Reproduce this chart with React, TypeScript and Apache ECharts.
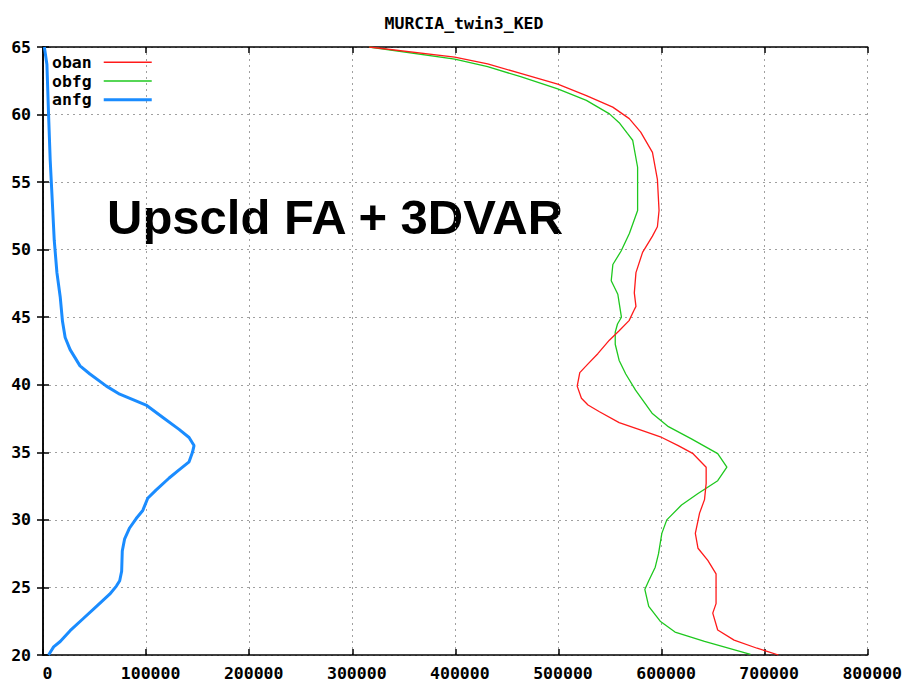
import React, { useEffect, useRef } from "react";
import * as echarts from "echarts";

// Vertical profiles: value (x) against level (y)
const obanValue = [316400, 399400, 431300, 463300, 499300, 527100, 552700, 568700, 579800, 591200, 596000, 597600, 596000, 591200, 581600, 575200, 573600, 575200, 573200, 568500, 558900, 549400, 538200, 528700, 520700, 518200, 522300, 528700, 539800, 558900, 578000, 600300, 616200, 630600, 643300, 643300, 641700, 636900, 632800, 635400, 644900, 652900, 652900, 649700, 654500, 670400, 692700, 713400];
const obanLevel = [65, 64.25, 63.75, 63.05, 62.25, 61.4, 60.55, 59.7, 58.7, 57.2, 55.2, 52.9, 51.7, 51.0, 49.8, 48.3, 46.8, 45.8, 45.5, 44.75, 44.0, 43.3, 42.3, 41.55, 40.9, 39.9, 39.0, 38.5, 38.0, 37.2, 36.7, 36.1, 35.5, 34.9, 33.9, 32.7, 31.5, 30.5, 29.0, 27.9, 27.0, 26.0, 23.8, 23.1, 21.85, 21.1, 20.5, 20.0];

const obfgValue = [316400, 399400, 431300, 463300, 499300, 527100, 549500, 558900, 566900, 572000, 576800, 576800, 568800, 560800, 552800, 551200, 557600, 561100, 557300, 555100, 555100, 558900, 565300, 574800, 590800, 606700, 629000, 654500, 663400, 654500, 635400, 619400, 605100, 600300, 597100, 593900, 587600, 583800, 587600, 598700, 613100, 641700, 686300];
const obfgLevel = [65, 64.1, 63.55, 62.8, 61.9, 61.05, 60.05, 59.4, 58.6, 58.1, 56.1, 52.9, 51.2, 49.9, 48.9, 47.7, 46.7, 45.0, 44.5, 43.9, 43.0, 41.8, 40.8, 39.6, 37.9, 36.9, 36.0, 34.9, 33.9, 32.9, 31.95, 31.1, 30.0, 29.0, 27.5, 26.5, 25.5, 24.85, 23.6, 22.5, 21.7, 21.0, 20.05];

const anfgValue = [1300, 3800, 5400, 7000, 9000, 10900, 13500, 16700, 18900, 21500, 26300, 35900, 45500, 61500, 74400, 87200, 100000, 116000, 132000, 141700, 146500, 145000, 141700, 132000, 122400, 109600, 101600, 96800, 90400, 84000, 79200, 76900, 76300, 74400, 71200, 64700, 51900, 39100, 26300, 16700, 10300, 5400];
const anfgLevel = [65, 63.7, 60, 56.6, 53.6, 50.7, 48.3, 46.5, 44.7, 43.5, 42.6, 41.4, 40.8, 39.9, 39.3, 38.9, 38.5, 37.6, 36.7, 36.1, 35.5, 35.0, 34.3, 33.7, 33.1, 32.2, 31.6, 30.7, 30.1, 29.4, 28.6, 27.7, 26.2, 25.5, 25.1, 24.5, 23.6, 22.7, 21.8, 21.0, 20.6, 20.0];

const seriesNames = ["oban", "obfg", "anfg"];
const seriesColors = ["#ff1a1a", "#1ec81e", "#1a8cff"];
const seriesWidths = [1.3, 1.3, 3];
const legendIconHeights = [1.5, 1.5, 3];

const xTicks = { min: 0, max: 800000, interval: 100000 };
const yTicks = { min: 20, max: 65, interval: 5 };

const chartTitle = "MURCIA_twin3_KED";
const annotation = "Upscld FA + 3DVAR";

const pairs = (xs: number[], ys: number[]) => xs.map((x, i) => [x, ys[i]]);

const monoFont = "DejaVu Sans Mono";
const WIDTH = 905;
const HEIGHT = 686;

export default function App() {
  const ref = useRef<HTMLDivElement>(null);

  useEffect(() => {
    document.body.style.margin = "0";
    document.documentElement.style.overflow = "hidden";
    if (!ref.current) return;
    const chart = echarts.init(ref.current, null, {
      renderer: "svg",
      width: WIDTH,
      height: HEIGHT,
    });

    const tickAxisBase = {
      type: "value" as const,
      axisLine: { show: true, lineStyle: { color: "#000", width: 1.5 } },
      axisTick: { show: true, inside: true, length: 6, lineStyle: { color: "#000", width: 1.5 } },
    };

    const labelStyle = {
      fontFamily: monoFont,
      fontWeight: "bold" as const,
      fontSize: 16.5,
      color: "#000",
    };

    const gridLine = { show: true, lineStyle: { color: "#a0a0a0", width: 1, type: [2, 4] } };

    const dataSets = [
      pairs(obanValue, obanLevel),
      pairs(obfgValue, obfgLevel),
      pairs(anfgValue, anfgLevel),
    ];

    chart.setOption({
      animation: false,
      backgroundColor: "#fff",
      title: {
        text: chartTitle,
        left: 459,
        top: 10,
        textAlign: "center",
        textStyle: { fontFamily: monoFont, fontWeight: "bold", fontSize: 16.5, color: "#000" },
      },
      legend: {
        left: 52,
        top: 53,
        padding: 0,
        orient: "vertical",
        align: "right",
        itemWidth: 48,
        itemHeight: 10,
        itemGap: 0,
        itemStyle: { borderWidth: 0 },
        textStyle: { ...labelStyle, lineHeight: 18.7, padding: [0, 7, 0, 0] },
        data: seriesNames.map((n, i) => ({
          name: n,
          icon: `path://M0,0H48V${legendIconHeights[i]}H0Z`,
        })),
      },
      grid: { left: 43, right: 27, top: 47, bottom: 31, show: false },
      xAxis: [
        {
          ...tickAxisBase,
          ...xTicks,
          position: "bottom",
          axisLabel: {
            ...labelStyle,
            margin: 10,
            padding: [0, 0, 0, 9],
            formatter: (v: number) => String(v),
          },
          splitLine: gridLine,
        },
        {
          ...tickAxisBase,
          ...xTicks,
          position: "top",
          axisLabel: { show: false },
          splitLine: { show: false },
        },
      ],
      yAxis: [
        {
          ...tickAxisBase,
          ...yTicks,
          position: "left",
          axisLabel: { ...labelStyle, margin: 12 },
          splitLine: gridLine,
        },
        {
          ...tickAxisBase,
          ...yTicks,
          position: "right",
          axisLabel: { show: false },
          splitLine: { show: false },
        },
      ],
      series: seriesNames.map((n, i) => ({
        name: n,
        type: "line",
        xAxisIndex: 0,
        yAxisIndex: 0,
        data: dataSets[i],
        showSymbol: false,
        symbol: "none",
        color: seriesColors[i],
        lineStyle: { color: seriesColors[i], width: seriesWidths[i] },
        z: 3 - i,
      })),
      graphic: [
        {
          type: "text",
          left: 107,
          top: 192,
          style: {
            text: annotation,
            font: "bold 49px 'Liberation Sans', Arial, sans-serif",
            fill: "#000",
          },
        },
      ],
    });

    return () => chart.dispose();
  }, []);

  return <div ref={ref} style={{ width: WIDTH, height: HEIGHT, overflow: "hidden" }} />;
}
